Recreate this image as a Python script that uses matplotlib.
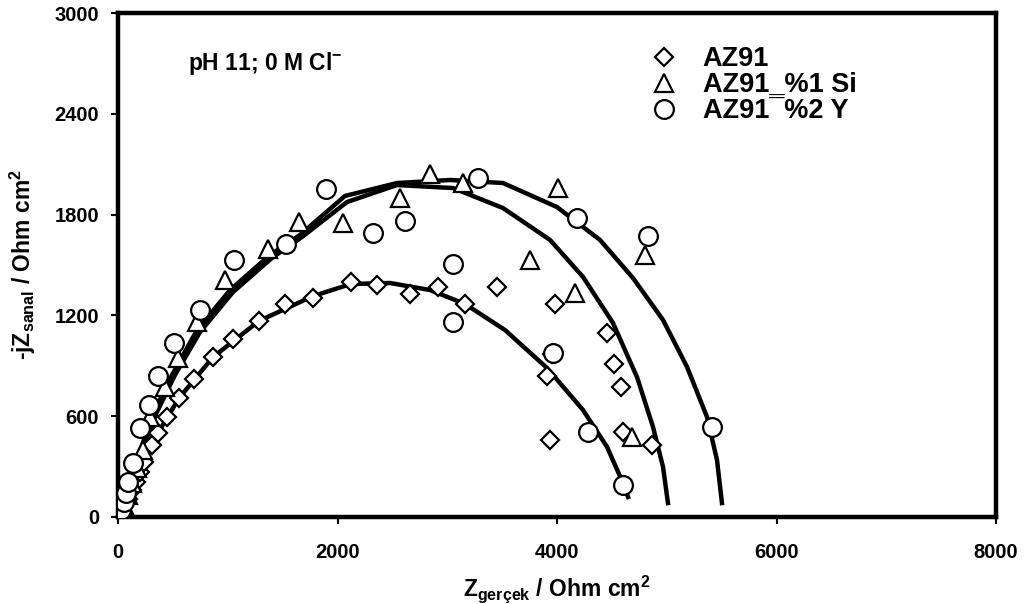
import matplotlib
matplotlib.use("Agg")
import matplotlib.pyplot as plt

plt.rcParams['font.family'] = ['Liberation Sans', 'DejaVu Sans']
plt.rcParams['font.weight'] = 'bold'
plt.rcParams['mathtext.default'] = 'regular'

# ---- data ----
az91_x = [0, 27, 55, 91, 128, 164, 200, 237, 310, 364, 446, 556, 692, 866, 1048, 1285,
          1522, 1777, 2123, 2360, 2661, 2916, 3162, 3453, 3982, 3909, 3954, 4456, 4519,
          4583, 3936, 4601, 4866]
az91_y = [0, 30, 65, 110, 160, 210, 270, 330, 430, 500, 595, 708, 821, 952, 1060, 1167,
          1268, 1304, 1399, 1381, 1327, 1369, 1268, 1369, 1268, 839, 970, 1095, 911,
          774, 458, 506, 429]

si_x = [0, 27, 55, 91, 128, 173, 228, 292, 428, 547, 720, 975, 1367, 1649, 2050, 2569,
        2843, 3144, 4009, 3754, 4164, 4802, 4683]
si_y = [0, 30, 71, 131, 202, 292, 399, 595, 774, 946, 1161, 1411, 1595, 1756, 1750, 1899,
        2042, 1988, 1958, 1530, 1333, 1560, 476]

y_x = [0, 27, 55, 73, 91, 137, 200, 282, 364, 510, 747, 1057, 1531, 1895, 2323, 2615,
       3052, 3052, 3280, 4182, 4829, 3964, 4282, 4601, 5412]
y_y = [0, 42, 89, 143, 208, 321, 530, 667, 839, 1036, 1232, 1530, 1625, 1952, 1690, 1762,
       1161, 1506, 2018, 1780, 1673, 976, 506, 190, 536]

fit_az91_x = [0, 55, 137, 246, 364, 556, 866, 1285, 1777, 2123, 2478, 2843, 3162, 3526,
              3909, 4237, 4456, 4601, 4647]
fit_az91_y = [0, 101, 220, 369, 500, 708, 952, 1167, 1315, 1387, 1393, 1351, 1268, 1113,
              887, 637, 417, 202, 119]

fit_si_x = [0, 46, 91, 155, 237, 355, 519, 747, 1048, 1403, 1677, 2087, 2542, 3053, 3508,
            3937, 4237, 4510, 4729, 4875, 4966, 5011]
fit_si_y = [0, 71, 161, 280, 429, 625, 845, 1101, 1339, 1542, 1667, 1875, 1976, 1958, 1839,
            1649, 1429, 1155, 833, 536, 298, 83]

fit_y_x = [0, 36, 82, 137, 219, 337, 492, 720, 1021, 1385, 1658, 2068, 2542, 3025, 3508,
           4000, 4392, 4692, 4966, 5185, 5367, 5458, 5503]
fit_y_y = [0, 71, 161, 280, 429, 637, 845, 1113, 1351, 1560, 1679, 1911, 1988, 2006, 1988,
           1845, 1649, 1423, 1173, 893, 595, 339, 83]

labels = ['AZ91', 'AZ91_%1 Si', 'AZ91\u00af%2 Y']
x_ticks = [0, 2000, 4000, 6000, 8000]
y_ticks = [0, 600, 1200, 1800, 2400, 3000]

# ---- figure ----
fig = plt.figure(figsize=(10.27, 6.04), dpi=100)
ax = fig.add_axes([118/1027, 87/604, 878/1027, 504/604])

for fx, fy in [(fit_az91_x, fit_az91_y), (fit_si_x, fit_si_y), (fit_y_x, fit_y_y)]:
    ax.plot(fx, fy, color='black', lw=3.2, solid_joinstyle='round', zorder=2)

mk = dict(linestyle='none', markerfacecolor='white', markeredgecolor='black',
          markeredgewidth=1.6, zorder=3)
ax.plot(az91_x, az91_y, marker='D', markersize=9, label=labels[0], **mk)
ax.plot(si_x, si_y, marker='^', markersize=13.5, label=labels[1], **mk)
ax.plot(y_x, y_y, marker='o', markersize=13.5, label=labels[2], **mk)

ax.set_xlim(0, 8000)
ax.set_ylim(0, 3000)
ax.set_xticks(x_ticks)
ax.set_yticks(y_ticks)
ax.tick_params(direction='out', length=5, width=1.5, labelsize=14.5)
ax.tick_params(axis='x', pad=14)
ax.tick_params(axis='y', pad=8.5)
for lab in ax.get_xticklabels() + ax.get_yticklabels():
    lab.set_fontweight('bold')
for s in ax.spines.values():
    s.set_linewidth(3.2)

ax.set_xlabel('Z$_{gerçek}$ / Ohm cm$^{2}$', fontsize=16.5, fontweight='bold', labelpad=8)
ax.set_ylabel('-jZ$_{sanal}$ / Ohm cm$^{2}$', fontsize=16.5, fontweight='bold', labelpad=12)

ax.text(638, 2661, 'pH 11; 0 M Cl$^{-}$', fontsize=16.5, fontweight='bold',
        ha='left', va='baseline')

leg = ax.legend(loc='upper left', bbox_to_anchor=(650/1027, 1 - 46/604),
                bbox_transform=fig.transFigure, frameon=False,
                labelspacing=0.0, handlelength=1.0, handletextpad=0.95,
                borderpad=0, borderaxespad=0, prop={'weight': 'bold', 'size': 19.5})

fig.savefig('out.png', dpi=100)
